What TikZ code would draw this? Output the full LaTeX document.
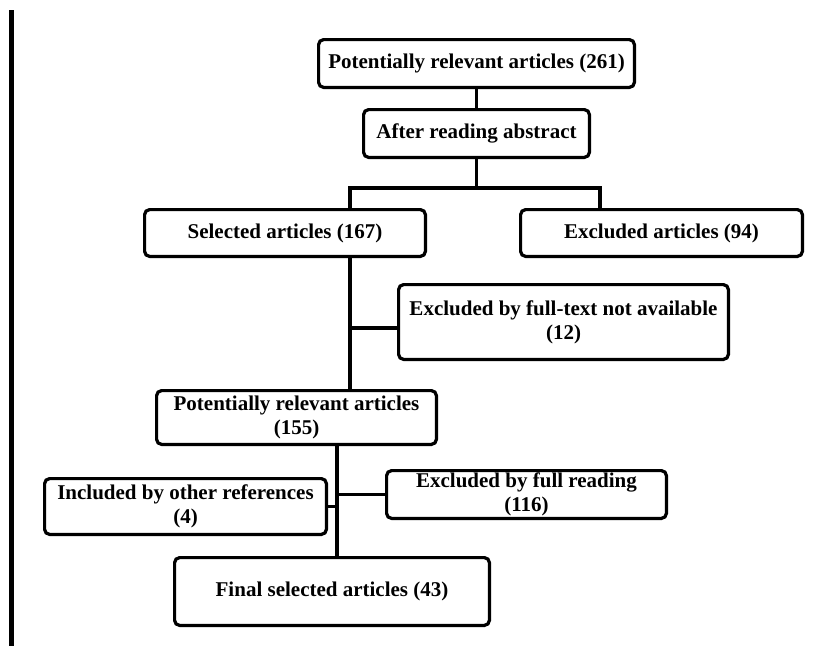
\documentclass[tikz,border=0pt]{standalone}
\usepackage{fontspec}
\setmainfont{Liberation Serif}
\begin{document}
\begin{tikzpicture}[x=1pt,y=-1pt]

\useasboundingbox (0,0) rectangle (818,646);

\newcommand{\lw}{3.2}

\tikzstyle{caixa}=[draw,rounded corners=5,line width=\lw pt,align=center,inner sep=0,
                   font=\bfseries\fontsize{21}{24}\selectfont]
\tikzstyle{liga}=[line width=\lw pt]

\newcommand{\etapa}[6]{
    \node[caixa,minimum width={#4-\lw},minimum height={#5-\lw}] (#1) at ({#2},{#3}) {#6};
}

\fill (9,10) rectangle (14,646);

\etapa{inicio}{476.5}{63.5}{319}{51}{Potentially relevant articles (261)}

\etapa{resumo}{476.5}{133.5}{229}{51}{After reading abstract}

\etapa{selecionados}{285}{233}{284}{50}{Selected articles (167)}

\etapa{excluidos}{661.5}{233}{285}{50}{Excluded articles (94)}

\etapa{semtexto}{563.5}{322}{333}{78}{Excluded by full-text not available\\(12)}

\etapa{relevantes}{296.5}{417.5}{283}{57}{Potentially relevant articles\\(155)}

\etapa{incluidos}{185.5}{506.5}{285}{59}{Included by other references\\(4)}

\etapa{leitura}{526.5}{494.5}{283}{51}{Excluded by full reading\\(116)}

\etapa{finais}{332}{591.5}{318}{71}{Final selected articles (43)}

\coordinate (ramo) at (476.5,188);

\draw[liga] (inicio) -- (resumo);
\draw[liga] (resumo) -- (ramo);
\draw[liga] (ramo) -| ([xshift=65pt]selecionados.north);
\draw[liga] (ramo) -| ([xshift=-61.5pt]excluidos.north);

\draw[liga] ([xshift=65pt]selecionados.south) -- ([xshift=53.5pt]relevantes.north);
\draw[liga] ([yshift=-6pt]semtexto.west) -- ++(-47,0);

\draw[liga] ([xshift=40.5pt]relevantes.south) -- ([xshift=5pt]finais.north);
\draw[liga] (leitura.west) -- ++(-48,0);
\draw[liga] (incluidos.east) -- ++(9,0);

\end{tikzpicture}
\end{document}
